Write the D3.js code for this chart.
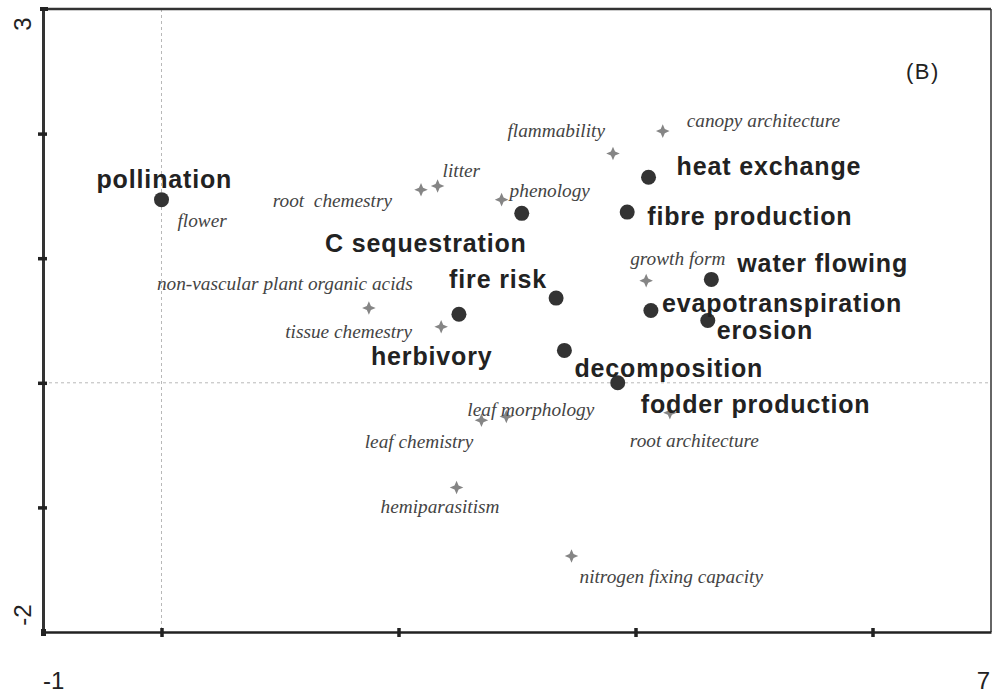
<!DOCTYPE html>
<html>
<head>
<meta charset="utf-8">
<script src="https://cdn.jsdelivr.net/npm/d3@7"></script>
<style>
  html, body { margin: 0; padding: 0; background: #fff; }
  svg { display: block; }
</style>
</head>
<body>
<svg id="chart" width="992" height="695"></svg>
<script>
// Ecosystem functions (filled circles)
const functionNames = ["pollination", "C sequestration", "heat exchange", "fibre production",
  "water flowing", "fire risk", "evapotranspiration", "erosion", "herbivory",
  "decomposition", "fodder production"];
const functionX = [0.00, 3.04, 4.11, 3.93, 4.64, 3.33, 4.13, 4.61, 2.51, 3.40, 3.85];
const functionY = [1.47, 1.36, 1.65, 1.37, 0.83, 0.68, 0.58, 0.50, 0.55, 0.26, 0.00];

// Plant traits (stars)
const traitNames = ["flower", "root  chemestry", "litter", "phenology", "flammability",
  "canopy architecture", "growth form", "non-vascular plant organic acids",
  "tissue chemestry", "leaf chemistry", "leaf morphology", "root architecture",
  "hemiparasitism", "nitrogen fixing capacity"];
const traitX = [0.00, 2.19, 2.33, 2.87, 3.81, 4.23, 4.09, 1.75, 2.36, 2.70, 2.91, 4.29, 2.49, 3.46];
const traitY = [1.47, 1.55, 1.58, 1.47, 1.84, 2.02, 0.82, 0.60, 0.45, -0.30, -0.27, -0.24, -0.84, -1.39];

// Axis extents and tick marks
const xDomain = [-1, 7];
const yDomain = [-2, 3];
const xTicks = [0, 2, 4, 6];
const yTicks = [-1, 0, 1, 2];
const xTickLabels = ["-1", "7"];
const yTickLabels = ["3", "-2"];
const panelTag = "(B)";

// Label placement relative to each mark: [anchor, dx, dy]
const functionLabelPos = {
  "pollination": ["start", -65, -12],
  "C sequestration": ["end", 5, 39],
  "heat exchange": ["start", 28, -2],
  "fibre production": ["start", 20, 13],
  "water flowing": ["start", 26, -7],
  "fire risk": ["end", -9, -10],
  "evapotranspiration": ["start", 11, 1],
  "erosion": ["start", 9, 18],
  "herbivory": ["start", -88, 51],
  "decomposition": ["start", 10, 27],
  "fodder production": ["start", 23, 30]
};
const traitLabelPos = {
  "flower": ["start", 16, 27],
  "root  chemestry": ["end", -29, 17],
  "litter": ["start", 5, -9],
  "phenology": ["start", 8, -3],
  "flammability": ["end", -8, -17],
  "canopy architecture": ["start", 24, -4],
  "growth form": ["start", -16, -16],
  "non-vascular plant organic acids": ["start", -212, -18],
  "tissue chemestry": ["end", -29, 11],
  "leaf chemistry": ["end", -8, 28],
  "leaf morphology": ["start", -39, 0],
  "root architecture": ["start", -40, 34],
  "hemiparasitism": ["start", -76, 26],
  "nitrogen fixing capacity": ["start", 8, 27]
};

const W = 992, H = 695;
const margin = { top: 9, right: 1, bottom: 63, left: 43 };

const svg = d3.select("#chart");
const x = d3.scaleLinear().domain(xDomain).range([margin.left, W - margin.right]);
const y = d3.scaleLinear().domain(yDomain).range([H - margin.bottom, margin.top]);

// Reference lines through the origin
svg.append("line")
  .attr("x1", x(0)).attr("x2", x(0))
  .attr("y1", y(yDomain[1])).attr("y2", y(yDomain[0]))
  .attr("stroke", "#b8b8b8").attr("stroke-width", 1).attr("stroke-dasharray", "3,3");
svg.append("line")
  .attr("x1", x(xDomain[0])).attr("x2", x(xDomain[1]))
  .attr("y1", y(0)).attr("y2", y(0))
  .attr("stroke", "#b8b8b8").attr("stroke-width", 1).attr("stroke-dasharray", "3,3");

// Frame: top and right edges
svg.append("line")
  .attr("x1", x(xDomain[0])).attr("x2", x(xDomain[1]))
  .attr("y1", y(yDomain[1])).attr("y2", y(yDomain[1]))
  .attr("stroke", "#333").attr("stroke-width", 2.5);
svg.append("line")
  .attr("x1", x(xDomain[1])).attr("x2", x(xDomain[1]))
  .attr("y1", y(yDomain[1])).attr("y2", y(yDomain[0]))
  .attr("stroke", "#333").attr("stroke-width", 1.5);

// Bottom axis
const gx = svg.append("g")
  .attr("transform", `translate(0,${y(yDomain[0])})`)
  .call(d3.axisBottom(x).tickValues(xTicks).tickSizeInner(5).tickSizeOuter(0).tickFormat(""));
gx.select(".domain").attr("stroke", "#222").attr("stroke-width", 2.5);
gx.selectAll(".tick line").attr("y1", -4).attr("stroke", "#222").attr("stroke-width", 3.5);

// Left axis
const gy = svg.append("g")
  .attr("transform", `translate(${x(xDomain[0])},0)`)
  .call(d3.axisLeft(y).tickValues(yTicks).tickSizeInner(5).tickSizeOuter(0).tickFormat(""));
gy.select(".domain").attr("stroke", "#333").attr("stroke-width", 3);
gy.selectAll(".tick line").attr("x1", 4).attr("stroke", "#222").attr("stroke-width", 3.5);

// Corner squares where frame lines meet
svg.append("rect").attr("x", x(xDomain[0]) - 3).attr("y", y(yDomain[1]) - 2).attr("width", 8).attr("height", 4).attr("fill", "#222");
svg.append("rect").attr("x", x(xDomain[0]) - 2).attr("y", y(yDomain[0]) - 3).attr("width", 5).attr("height", 7).attr("fill", "#222");

// End-of-range tick labels
const tickFont = "'Liberation Sans', Arial, sans-serif";
svg.append("text").attr("x", x(xDomain[0])).attr("y", y(yDomain[0]) + 57)
  .attr("text-anchor", "start").attr("font-family", tickFont).attr("font-size", 24).attr("fill", "#222")
  .text(xTickLabels[0]);
svg.append("text").attr("x", x(xDomain[1]) - 1).attr("y", y(yDomain[0]) + 57)
  .attr("text-anchor", "end").attr("font-family", tickFont).attr("font-size", 24).attr("fill", "#222")
  .text(xTickLabels[1]);
svg.append("text")
  .attr("transform", `translate(${x(xDomain[0]) - 12},${y(yDomain[1]) + 15}) rotate(-90)`)
  .attr("text-anchor", "middle").attr("font-family", tickFont).attr("font-size", 24).attr("fill", "#222")
  .text(yTickLabels[0]);
svg.append("text")
  .attr("transform", `translate(${x(xDomain[0]) - 12},${y(yDomain[0]) - 17}) rotate(-90)`)
  .attr("text-anchor", "middle").attr("font-family", tickFont).attr("font-size", 24).attr("fill", "#222")
  .text(yTickLabels[1]);

// Panel tag
svg.append("text").attr("x", 906).attr("y", 79)
  .attr("font-family", tickFont).attr("font-size", 22).attr("letter-spacing", 1.5).attr("fill", "#222")
  .text(panelTag);

// Four-pointed star symbol for traits
const star4 = {
  draw(ctx, size) {
    const r = Math.sqrt(size);
    const ri = r * 0.3;
    ctx.moveTo(0, -r);
    ctx.lineTo(ri, -ri);
    ctx.lineTo(r, 0);
    ctx.lineTo(ri, ri);
    ctx.lineTo(0, r);
    ctx.lineTo(-ri, ri);
    ctx.lineTo(-r, 0);
    ctx.lineTo(-ri, -ri);
    ctx.closePath();
  }
};

const traits = traitNames.map((n, i) => ({ name: n, x: traitX[i], y: traitY[i] }));
const funcs = functionNames.map((n, i) => ({ name: n, x: functionX[i], y: functionY[i] }));

// Trait stars
svg.append("g").selectAll("path").data(traits).join("path")
  .attr("transform", d => `translate(${x(d.x)},${y(d.y)})`)
  .attr("d", d3.symbol().type(star4).size(46))
  .attr("fill", "#858585");

// Trait labels
svg.append("g").selectAll("text").data(traits).join("text")
  .attr("x", d => x(d.x) + traitLabelPos[d.name][1])
  .attr("y", d => y(d.y) + traitLabelPos[d.name][2])
  .attr("text-anchor", d => traitLabelPos[d.name][0])
  .attr("font-family", "'Liberation Serif', 'Times New Roman', serif")
  .attr("font-style", "italic")
  .attr("font-size", 19.3)
  .attr("fill", "#444")
  .style("white-space", "pre")
  .text(d => d.name);

// Function circles
svg.append("g").selectAll("circle").data(funcs).join("circle")
  .attr("cx", d => x(d.x)).attr("cy", d => y(d.y)).attr("r", 7.5)
  .attr("fill", "#333");

// Function labels
svg.append("g").selectAll("text").data(funcs).join("text")
  .attr("x", d => x(d.x) + functionLabelPos[d.name][1])
  .attr("y", d => y(d.y) + functionLabelPos[d.name][2])
  .attr("text-anchor", d => functionLabelPos[d.name][0])
  .attr("font-family", "'Liberation Sans', Arial, sans-serif")
  .attr("font-weight", "bold")
  .attr("font-size", 25)
  .attr("letter-spacing", 0.85)
  .attr("fill", "#222")
  .text(d => d.name);
</script>
</body>
</html>
